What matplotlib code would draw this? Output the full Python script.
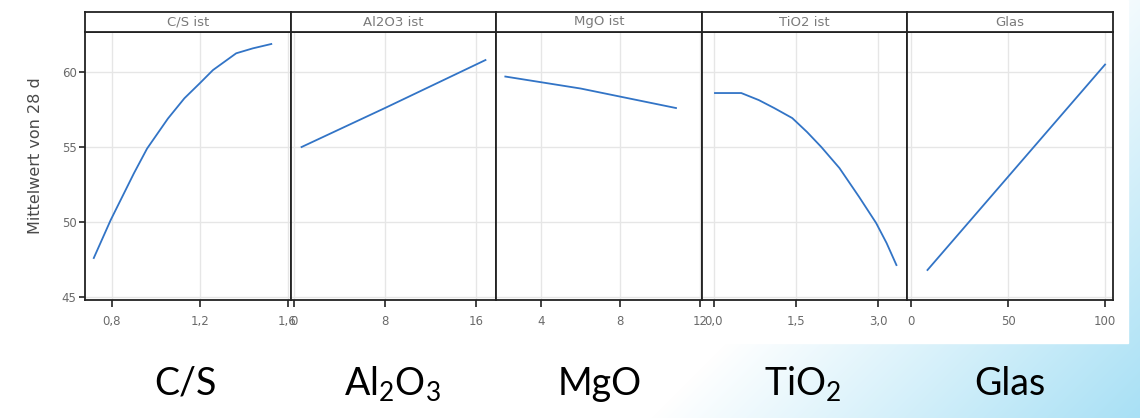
import numpy as np
import matplotlib.pyplot as plt
from matplotlib.patches import Rectangle

# values
cs_x = [0.717, 0.794, 0.90, 0.96, 1.055, 1.13, 1.20, 1.26, 1.366, 1.442, 1.526]
cs_y = [47.6, 50.13, 53.25, 54.9, 56.9, 58.25, 59.25, 60.13, 61.25, 61.58, 61.87]
al_x = [0.7, 8.0, 16.8]
al_y = [55.0, 57.6, 60.8]
mgo_x = [2.2, 6.0, 10.8]
mgo_y = [59.7, 58.9, 57.6]
tio_x = [0.02, 0.5, 0.82, 1.1, 1.43, 1.7, 1.96, 2.29, 2.65, 2.96, 3.15, 3.33]
tio_y = [58.6, 58.6, 58.13, 57.6, 56.93, 56.0, 55.0, 53.6, 51.67, 49.93, 48.6, 47.13]
glas_x = [8.3, 100.0]
glas_y = [46.8, 60.5]

titles = ['C/S ist', 'Al2O3 ist', 'MgO ist', 'TiO2 ist', 'Glas']
bottom_labels = ['C/S', 'Al$_2$O$_3$', 'MgO', 'TiO$_2$', 'Glas']
xticks = [[0.8, 1.2, 1.6], [0, 8, 16], [4, 8, 12], [0.0, 1.5, 3.0], [0, 50, 100]]
xticklabels = [['0,8', '1,2', '1,6'], ['0', '8', '16'], ['4', '8', '12'],
               ['0,0', '1,5', '3,0'], ['0', '50', '100']]
xlims = [(0.677, 1.614), (-0.26, 17.74), (1.74, 12.1), (-0.22, 3.53), (-2.07, 104.1)]
yticks = [45, 50, 55, 60]

series = [(cs_x, cs_y), (al_x, al_y), (mgo_x, mgo_y), (tio_x, tio_y), (glas_x, glas_y)]

plt.rcParams['mathtext.fontset'] = 'custom'
plt.rcParams['mathtext.rm'] = 'Lato'
plt.rcParams['mathtext.it'] = 'Lato'

W, H = 1140, 418
fig = plt.figure(figsize=(W / 100, H / 100), dpi=100)

# background gradient (white -> light blue towards lower right)
bg = fig.add_axes([0, 0, 1, 1], zorder=-10)
xx, yy = np.meshgrid(np.arange(W), np.arange(H))
t = np.clip((xx + yy - 1068) / 490.0, 0, 1)
c0 = np.array([1.0, 1.0, 1.0])
c1 = np.array([168, 224, 245]) / 255.0
img = c0[None, None, :] * (1 - t[..., None]) + c1[None, None, :] * t[..., None]
bg.imshow(img, extent=[0, W, H, 0], aspect='auto')
bg.add_patch(Rectangle((0, 0), 1128, 343, color='white', zorder=2))
bg.set_xlim(0, W)
bg.set_ylim(H, 0)
bg.axis('off')


def fx(px):
    return px / W


def fy(py):
    return 1 - py / H


left, right = 85, 1113
pw = (right - left) / 5
ax_top, ax_bot, head_top = 32, 300, 12

for i in range(5):
    x0 = left + i * pw
    ax = fig.add_axes([fx(x0), fy(ax_bot), pw / W, (ax_bot - ax_top) / H])
    xs, ys = series[i]
    ax.plot(xs, ys, color='#3274c6', lw=1.3)
    ax.set_xlim(*xlims[i])
    ax.set_ylim(44.8, 62.67)
    ax.set_xticks(xticks[i])
    ax.set_xticklabels(xticklabels[i])
    ax.set_yticks(yticks)
    ax.grid(True, color='#e6e6e6', lw=1)
    ax.set_axisbelow(True)
    for s in ax.spines.values():
        s.set_color('#222222')
        s.set_linewidth(1.3)
    ax.tick_params(axis='x', direction='out', length=5, width=1.2, color='#222222',
                   labelsize=8.5, labelcolor='#6a6a6a', pad=6)
    if i == 0:
        ax.tick_params(axis='y', direction='out', length=4, width=1.2, color='#222222',
                       labelsize=8.5, labelcolor='#6a6a6a', pad=2)
    else:
        ax.tick_params(axis='y', left=False, labelleft=False)

    # header strip
    hx = fig.add_axes([fx(x0), fy(ax_top), pw / W, (ax_top - head_top) / H])
    hx.set_xticks([])
    hx.set_yticks([])
    for s in hx.spines.values():
        s.set_color('#222222')
        s.set_linewidth(1.3)
    hx.text(0.5, 0.5, titles[i], ha='center', va='center', fontsize=9.5,
            color='#7a7a7a', transform=hx.transAxes)

fig.text(fx(36), fy(156), 'Mittelwert von 28 d', rotation=90, ha='center', va='center',
         fontsize=11.5, color='#4a4a4a')

# large labels under the panels
label_x = [185, 392, 600, 803, 1010]
for lx, lab in zip(label_x, bottom_labels):
    fig.text(fx(lx), fy(395), lab, ha='center', va='baseline', fontsize=27,
             family='Lato', color='black')

fig.savefig('out.png', dpi=100)
